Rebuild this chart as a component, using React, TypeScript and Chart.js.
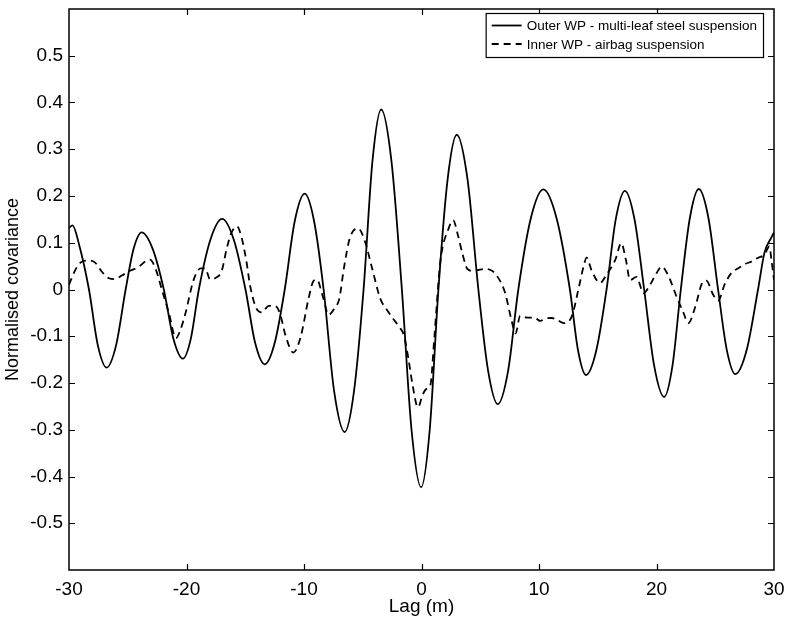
import React, { useEffect, useRef } from "react";
import { Chart, registerables } from "chart.js";

Chart.register(...registerables);

const seriesLabels = [
  "Outer WP - multi-leaf steel suspension",
  "Inner WP - airbag suspension",
];

const outerLag = [
  -30, -29.7, -29.15, -28.3, -27.55, -26.8, -25.99, -25.18, -24.5, -23.82, -22.88, -21.93,
  -21.12, -20.31, -19.63, -18.95, -17.96, -16.97, -15.98, -14.98, -14.16, -13.34, -12.49,
  -11.64, -10.79, -9.94, -9.14, -8.33, -7.44, -6.54, -5.74, -4.93, -4.18, -3.43, -2.55,
  -1.67, -0.85, -0.03, 0.7, 1.44, 2.22, 3.0, 3.92, 4.84, 5.67, 6.49, 7.37, 8.24, 9.3, 10.37,
  11.5, 12.63, 13.32, 14.0, 14.88, 15.75, 16.53, 17.31, 18.13, 18.95, 19.8, 20.65, 21.36,
  22.07, 22.84, 23.6, 24.42, 25.24, 25.98, 26.71, 27.68, 28.64, 29.2, 29.77, 30,
];
const outerCov = [
  0.132, 0.137, 0.097, 0, -0.119, -0.167, -0.119, 0, 0.087, 0.122, 0.087, 0,
  -0.105, -0.148, -0.105, 0, 0.107, 0.151, 0.107, 0, -0.114, -0.16, -0.114,
  0, 0.146, 0.205, 0.146, 0, -0.217, -0.305, -0.217, 0, 0.273, 0.385, 0.273,
  0, -0.3, -0.423, -0.3, 0, 0.235, 0.331, 0.235, 0, -0.174, -0.245, -0.174, 0, 0.152, 0.214,
  0.152, 0, -0.13, -0.183, -0.13, 0, 0.15, 0.211, 0.15, 0, -0.163, -0.23, -0.163,
  0, 0.153, 0.215, 0.153, 0, -0.129, -0.181, -0.129, 0, 0.08, 0.111, 0.122,
];

const innerLag = [
  -30, -29.5, -29.0, -28.4, -27.8, -27.2, -26.6, -26.1, -25.5, -24.8, -24.1, -23.5, -23.1,
  -22.6, -22.1, -21.5, -20.9, -20.5, -20.1, -19.4, -18.8, -18.4, -18.0, -17.5, -17.0, -16.6,
  -16.2, -15.7, -15.3, -14.9, -14.6, -14.1, -13.6, -13.0, -12.4, -12.0, -11.6, -10.9, -10.3,
  -9.6, -9.2, -8.9, -8.4, -7.9, -7.4, -7.0, -6.6, -6.1, -5.4, -4.8, -4.2, -3.5, -2.9, -2.4,
  -1.9, -1.5, -1.1, -0.8, -0.3, 0.1, 0.4, 0.75, 1.1, 1.6, 2.3, 2.7, 3.1, 3.5, 3.9, 4.3, 4.7,
  5.4, 6.0, 6.4, 7.1, 7.7, 8.0, 8.4, 9.0, 9.6, 10.1, 10.6, 11.1, 11.6, 12.1, 12.8, 13.35, 13.8,
  14.05, 14.5, 15.2, 15.75, 16.5, 17.0, 17.4, 17.75, 18.3, 18.9, 19.45, 20.0, 20.45, 20.9,
  21.3, 21.7, 22.3, 22.7, 23.3, 23.85, 24.25, 24.8, 25.25, 25.8, 26.4, 27.0, 27.5, 28.1,
  28.65, 29.2, 29.6, 29.8, 30.0,
];
const innerCov = [
  0.01, 0.04, 0.058, 0.062, 0.058, 0.038, 0.024, 0.022, 0.03, 0.04, 0.048, 0.06, 0.064,
  0.042, 0.0, -0.05, -0.104, -0.085, -0.052, 0.02, 0.045, 0.045, 0.022, 0.025, 0.04, 0.085,
  0.12, 0.135, 0.11, 0.06, 0.01, -0.038, -0.049, -0.035, -0.036, -0.055, -0.096, -0.135, -0.103,
  -0.018, 0.018, 0.021, -0.015, -0.054, -0.04, -0.02, 0.046, 0.11, 0.131, 0.102, 0.045, -0.02, -0.045, -0.063,
  -0.08, -0.098, -0.15, -0.198, -0.252, -0.225, -0.213, -0.205, -0.1, 0.059, 0.13, 0.148, 0.116, 0.075, 0.044, 0.04, 0.041,
  0.044, 0.04, 0.03, -0.006, -0.07, -0.094, -0.056, -0.06, -0.06, -0.067, -0.062, -0.061, -0.066, -0.072, -0.057, 0.0, 0.05,
  0.068, 0.039, 0.014, 0.032, 0.064, 0.099, 0.063, 0.02, 0.027, -0.008, 0.01, 0.035, 0.049, 0.035,
  0.012, -0.015, -0.05, -0.072, -0.037, 0.012, 0.019, -0.01, -0.024, 0.011, 0.036, 0.046, 0.054, 0.06,
  0.068, 0.075, 0.092, 0.06, 0.02,
];

const xTickValues = [-30, -20, -10, 0, 10, 20, 30];
const yTickValues = [-0.6, -0.5, -0.4, -0.3, -0.2, -0.1, 0, 0.1, 0.2, 0.3, 0.4, 0.5, 0.6];
const yLabelled = [-0.5, -0.4, -0.3, -0.2, -0.1, 0, 0.1, 0.2, 0.3, 0.4, 0.5];

const xTitle = "Lag (m)";
const yTitle = "Normalised covariance";

const FONT = "'Liberation Sans', Arial, Helvetica, sans-serif";

const framePlugin = {
  id: "frameTicks",
  afterDatasetsDraw(chart: any) {
    const { ctx, chartArea, scales } = chart;
    const { left, right, top, bottom } = chartArea;
    const x = scales.x;
    const y = scales.y;
    ctx.save();
    ctx.strokeStyle = "#000";
    ctx.lineWidth = 1.5;
    ctx.strokeRect(left, top, right - left, bottom - top);
    ctx.lineWidth = 1.2;
    const tl = 6;
    ctx.beginPath();
    xTickValues.forEach((v) => {
      const px = Math.round(x.getPixelForValue(v)) + 0.5;
      if (px <= left + 1 || px >= right - 1) return;
      ctx.moveTo(px, bottom);
      ctx.lineTo(px, bottom - tl);
      ctx.moveTo(px, top);
      ctx.lineTo(px, top + tl);
    });
    yTickValues.forEach((v) => {
      const py = Math.round(y.getPixelForValue(v)) + 0.5;
      if (py <= top + 1 || py >= bottom - 1) return;
      ctx.moveTo(left, py);
      ctx.lineTo(left + tl, py);
      ctx.moveTo(right, py);
      ctx.lineTo(right - tl, py);
    });
    ctx.stroke();
    ctx.restore();
  },
};

const legendPlugin = {
  id: "boxLegend",
  afterDraw(chart: any) {
    const { ctx, chartArea } = chart;
    const fontSize = 13.5;
    ctx.save();
    ctx.font = `${fontSize}px ${FONT}`;
    const textW = Math.max(...seriesLabels.map((t) => ctx.measureText(t).width));
    const sampleW = 30;
    const padL = 6;
    const gap = 5;
    const padR = 6;
    const w = padL + sampleW + gap + textW + padR;
    const h = 44;
    const bx = chartArea.right - 11 - w;
    const by = chartArea.top + 4;
    ctx.fillStyle = "#fff";
    ctx.fillRect(bx, by, w, h);
    ctx.strokeStyle = "#000";
    ctx.lineWidth = 1.2;
    ctx.strokeRect(bx + 0.5, by + 0.5, w, h);
    const rows = [by + 12.5, by + 31];
    chart.data.datasets.forEach((ds: any, i: number) => {
      const ry = rows[i];
      ctx.beginPath();
      ctx.setLineDash(ds.borderDash || []);
      ctx.lineWidth = ds.borderWidth;
      ctx.strokeStyle = ds.borderColor;
      ctx.moveTo(bx + padL, ry);
      ctx.lineTo(bx + padL + sampleW, ry);
      ctx.stroke();
      ctx.setLineDash([]);
      ctx.fillStyle = "#000";
      ctx.textBaseline = "middle";
      ctx.textAlign = "left";
      ctx.fillText(ds.label, bx + padL + sampleW + gap, ry + 1);
    });
    ctx.restore();
  },
};

export default function App() {
  const canvasRef = useRef<HTMLCanvasElement | null>(null);

  useEffect(() => {
    if (!canvasRef.current) return;
    Chart.defaults.font.family = FONT;
    Chart.defaults.color = "#000";
    const chart = new Chart(canvasRef.current, {
      type: "line",
      data: {
        datasets: [
          {
            label: seriesLabels[0],
            data: outerLag.map((x, i) => ({ x, y: outerCov[i] })),
            borderColor: "#000",
            borderWidth: 1.8,
            pointRadius: 0,
            fill: false,
            cubicInterpolationMode: "monotone",
          },
          {
            label: seriesLabels[1],
            data: innerLag.map((x, i) => ({ x, y: innerCov[i] })),
            borderColor: "#000",
            borderWidth: 1.8,
            borderDash: [7, 5],
            pointRadius: 0,
            fill: false,
            cubicInterpolationMode: "monotone",
          },
        ],
      },
      options: {
        responsive: false,
        maintainAspectRatio: false,
        animation: false,
        layout: { padding: { left: 0, right: 17, top: 9, bottom: 0 } },
        plugins: {
          legend: { display: false },
          tooltip: { enabled: false },
        },
        scales: {
          x: {
            type: "linear",
            min: -30,
            max: 30,
            grid: { display: false, drawTicks: false },
            border: { display: false },
            afterBuildTicks: (s: any) => {
              s.ticks = xTickValues.map((v) => ({ value: v }));
            },
            afterFit: (s: any) => {
              s.height = 51;
              s.paddingLeft = 0;
              s.paddingRight = 0;
            },
            ticks: {
              padding: 8,
              font: { size: 19 },
              color: "#000",
              maxRotation: 0,
              callback: (v: any) => String(v),
            },
            title: {
              display: true,
              text: xTitle,
              font: { size: 19 },
              color: "#000",
              padding: { top: 0, bottom: 3 },
            },
          },
          y: {
            type: "linear",
            min: -0.6,
            max: 0.6,
            grid: { display: false, drawTicks: false },
            border: { display: false },
            afterBuildTicks: (s: any) => {
              s.ticks = yTickValues.map((v) => ({ value: v }));
            },
            afterFit: (s: any) => {
              s.width = 69;
              s.paddingTop = 0;
              s.paddingBottom = 0;
            },
            ticks: {
              padding: 6,
              font: { size: 19 },
              color: "#000",
              callback: (v: any) => {
                const n = Number(Number(v).toFixed(1));
                return yLabelled.includes(n) ? String(n) : "";
              },
            },
            title: {
              display: true,
              text: yTitle,
              font: { size: 18 },
              color: "#000",
              padding: { top: 2, bottom: 0 },
            },
          },
        },
      },
      plugins: [framePlugin, legendPlugin],
    } as any);
    return () => chart.destroy();
  }, []);

  return (
    <div style={{ position: "fixed", left: 0, top: 0, width: 791, height: 621, background: "#fff" }}>
      <canvas ref={canvasRef} width={791} height={621} style={{ width: 791, height: 621 }} />
    </div>
  );
}
